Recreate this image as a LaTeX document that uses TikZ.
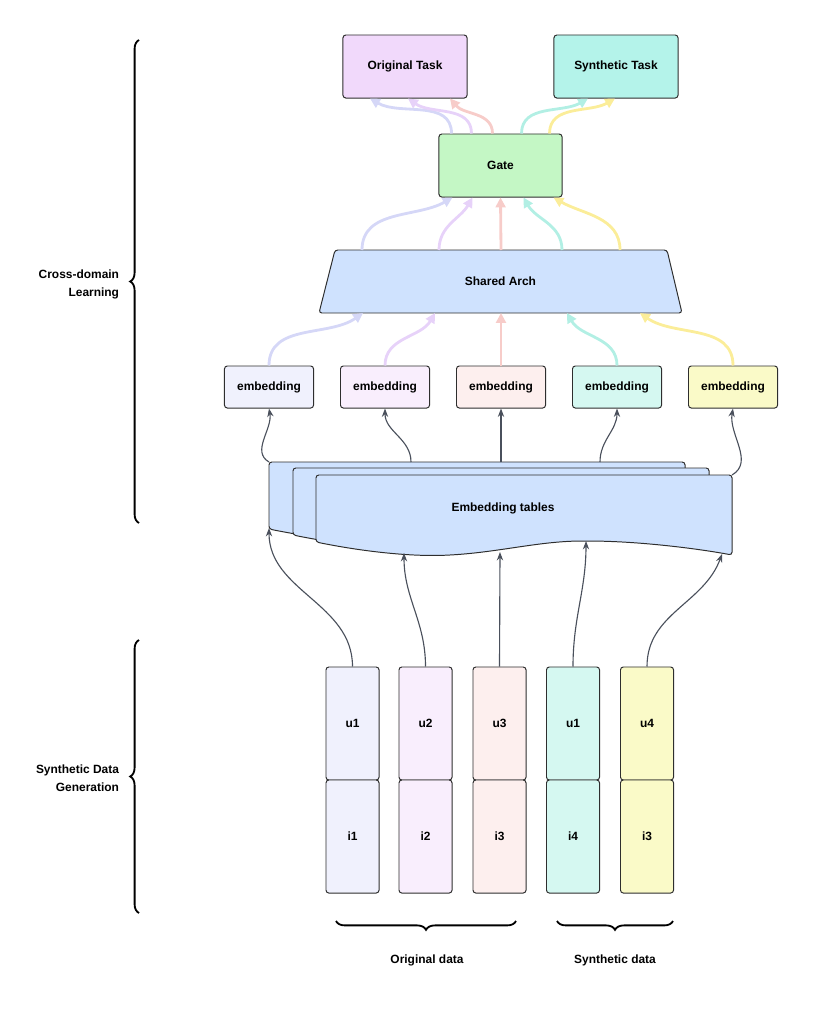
\documentclass[tikz,border=0pt]{standalone}
\usepackage{fontspec}
\setmainfont{Liberation Sans}
\usetikzlibrary{calc,arrows.meta,decorations.pathreplacing}
\definecolor{taskorig}{HTML}{F1D9FB}
\definecolor{tasksyn}{HTML}{B4F3EA}
\definecolor{gatefill}{HTML}{C4F7C5}
\definecolor{archfill}{HTML}{CFE2FE}
\definecolor{fillA}{HTML}{F0F1FD}
\definecolor{fillB}{HTML}{F9EEFD}
\definecolor{fillC}{HTML}{FDEFEE}
\definecolor{fillD}{HTML}{D5F8F1}
\definecolor{fillE}{HTML}{FAFAC8}
\definecolor{flowA}{HTML}{D5D7F7}
\definecolor{flowB}{HTML}{E7D2F9}
\definecolor{flowC}{HTML}{F7CCC9}
\definecolor{flowD}{HTML}{B2EFE4}
\definecolor{flowE}{HTML}{FBED99}
\definecolor{edge}{HTML}{2E2E2E}
\definecolor{wire}{HTML}{4A505C}

\begin{document}
\begin{tikzpicture}[x=0.025cm,y=0.025cm,
  font=\fontsize{8.5}{12.8}\selectfont\bfseries,
  box/.style={draw=edge,line width=0.7pt,rounded corners=2pt},
  taskbox/.style={box,minimum width=3.1cm,minimum height=1.575cm},
  embbox/.style={box,minimum width=2.225cm,minimum height=1.05cm},
  cellbox/.style={box,minimum width=1.325cm,minimum height=2.825cm},
  flow/.style={line width=2pt,-{Triangle[length=7pt,width=7pt]}},
  feed/.style={draw=wire,line width=0.8pt,-{Stealth[length=6pt,width=4.5pt]}},
  bracket/.style={decorate,decoration={brace,amplitude=0.22cm},line width=1.3pt}]
\useasboundingbox (0,0) rectangle (812,-1013);

\node[taskbox,fill=taskorig] (orig) at (405,-66.5) {Original Task};
\node[taskbox,fill=tasksyn] (synth) at (616,-66.5) {Synthetic Task};
\node[taskbox,fill=gatefill,minimum width=3.075cm] (gate) at (500.5,-165.5) {Gate};

% shared arch
\draw[box,fill=archfill] (319,-313) -- (335,-250) -- (667,-250) -- (682,-313) -- cycle;
\node (arch) at (500.5,-281.5) {Shared Arch};
\coordinate (archN) at (501,-250);
\coordinate (archS) at (501,-313);

\foreach \x/\c [count=\k] in {269/A,385/B,501/C,617/D,733/E}
  \node[embbox,fill=fill\c] (emb\k) at (\x,-387) {embedding};

% stacked tables
\foreach \dx/\dy in {-47/13,-23/7,0/0}
  \draw[box,fill=archfill,shift={(\dx,\dy)}] (316,-542) -- (316,-475) -- (732,-475) -- (732,-555)
    .. controls (700,-549) and (640,-541) .. (585,-541)
    .. controls (540,-541) and (500,-552) .. (450,-555)
    .. controls (410,-557) and (360,-551) .. (316,-542) -- cycle;
\node (tables) at (503,-508) {Embedding tables};
\coordinate (tt1) at (269,-462);
\coordinate (tt2) at (411,-462);
\coordinate (tt3) at (501,-462);
\coordinate (tt4) at (600,-462);
\coordinate (tt5) at (732,-475);
\coordinate (tb1) at (269,-528);
\coordinate (tb2) at (404,-553);
\coordinate (tb3) at (500,-552);
\coordinate (tb4) at (586,-541);
\coordinate (tb5) at (722,-554);

\foreach \x/\c/\usr/\itm [count=\k] in {352.5/A/u1/i1,425.5/B/u2/i2,499.5/C/u3/i3,573/D/u1/i4,647/E/u4/i3}{
  \node[cellbox,fill=fill\c] (u\k) at (\x,-723.5) {\usr};
  \node[cellbox,fill=fill\c] (i\k) at (\x,-836.5) {\itm};
}

% data into tables
\draw[feed] (u1.north) to[out=90,in=-90] (tb1);
\draw[feed] (u2.north) to[out=90,in=-90] (tb2);
\draw[feed] (u3.north) -- (tb3);
\draw[feed] (u4.north) to[out=90,in=-90] (tb4);
\draw[feed] (u5.north) to[out=90,in=-110] (tb5);

% tables into embeddings
\draw[feed] (tt1) to[out=150,in=-80] (emb1.south);
\draw[feed] (tt2) to[out=90,in=-90] (emb2.south);
\draw[feed] (tt3) -- (emb3.south);
\draw[feed] (tt4) to[out=90,in=-90] (emb4.south);
\draw[feed] (tt5) to[out=30,in=-100] (emb5.south);

% embeddings into shared arch
\draw[flow,flowA] (emb1.north) to[out=90,in=-145] ($(archS)+(-138,0)$);
\draw[flow,flowB] (emb2.north) to[out=90,in=-120] ($(archS)+(-66,0)$);
\draw[flow,flowC] (emb3.north) -- (archS);
\draw[flow,flowD] (emb4.north) to[out=90,in=-60] ($(archS)+(66,0)$);
\draw[flow,flowE] (emb5.north) to[out=90,in=-35] ($(archS)+(139,0)$);

% shared arch into gate
\draw[flow,flowA] ($(archN)+(-139,0)$) to[out=90,in=-150] ($(gate.south)+(-48,0)$);
\draw[flow,flowB] ($(archN)+(-62,0)$) to[out=90,in=-120] ($(gate.south)+(-28,0)$);
\draw[flow,flowC] (archN) -- (gate.south);
\draw[flow,flowD] ($(archN)+(61,0)$) to[out=90,in=-60] ($(gate.south)+(23,0)$);
\draw[flow,flowE] ($(archN)+(119,0)$) to[out=90,in=-30] ($(gate.south)+(53,0)$);

% gate into tasks
\draw[flow,flowA] ($(gate.north)+(-49,0)$) to[out=90,in=-30] ($(orig.south)+(-35,0)$);
\draw[flow,flowB] ($(gate.north)+(-29,0)$) to[out=90,in=-35] ($(orig.south)+(3,0)$);
\draw[flow,flowC] ($(gate.north)+(-8,0)$) to[out=90,in=-50] ($(orig.south)+(45,0)$);
\draw[flow,flowD] ($(gate.north)+(21,0)$) to[out=90,in=-150] ($(synth.south)+(-28,0)$);
\draw[flow,flowE] ($(gate.north)+(49,0)$) to[out=90,in=-150] ($(synth.south)+(-1,0)$);

% braces and labels
\draw[bracket] (139,-523) -- (139,-40);
\node[anchor=east,align=right] (learn) at (124,-284) {Cross-domain\\Learning};
\draw[bracket] (139,-913) -- (139,-640);
\node[anchor=east,align=right] (gen) at (124,-778) {Synthetic Data\\Generation};
\draw[bracket] (516,-921) -- (336,-921);
\node (origdata) at (427,-960) {Original data};
\draw[bracket] (673,-921) -- (557,-921);
\node (syndata) at (615,-960) {Synthetic data};
\end{tikzpicture}
\end{document}
